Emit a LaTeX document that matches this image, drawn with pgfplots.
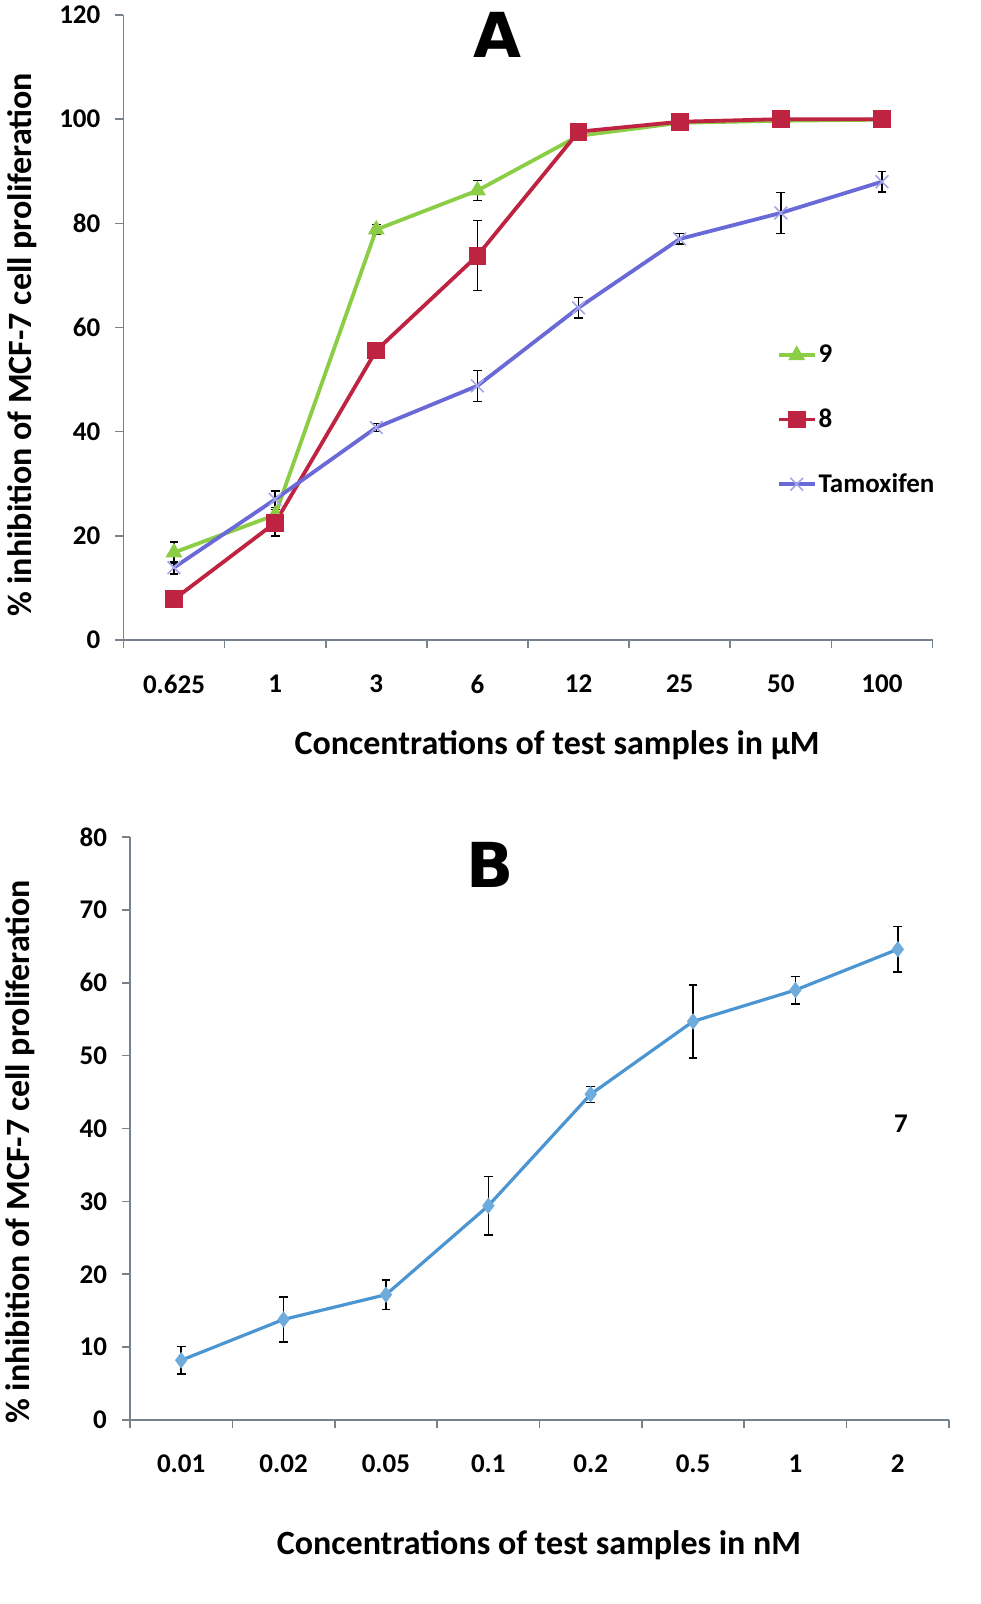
\documentclass[border=0pt]{standalone}
\usepackage{pgfplots}
\pgfplotsset{compat=1.18}
\usepackage{fontspec}
\setmainfont{Carlito}
\newfontfamily\titlefont{DejaVu Sans}
\definecolor{cgreen}{RGB}{140,205,70}
\definecolor{cred}{RGB}{190,35,65}
\definecolor{ctam}{RGB}{105,105,215}
\definecolor{cblue}{RGB}{75,150,210}
\definecolor{axgray}{RGB}{120,130,140}

\pgfplotstableread{
x g ge r re t te
0 16.8 2.0 7.8 0.0 13.9 1.2
1 24.0 1.0 22.5 2.5 27.0 1.6
2 78.8 1.0 55.6 0.0 40.8 0.8
3 86.3 1.9 73.8 6.7 48.8 3.0
4 96.8 0.0 97.6 0.0 63.8 2.0
5 99.3 0.0 99.5 0.0 77.0 1.0
6 99.7 0.0 100.0 0.0 82.0 3.9
7 99.9 0.0 100.0 0.0 88.0 2.0
}\dataA

\pgfplotstableread{
x y e
0 8.2 1.9
1 13.8 3.1
2 17.2 2.0
3 29.4 4.0
4 44.7 1.1
5 54.7 5.0
6 59.0 1.9
7 64.6 3.1
}\dataB

\pgfplotsset{
  panel/.style={
    scale only axis,
    xmin=-0.5, xmax=7.5,
    axis x line*=bottom, axis y line*=left,
    axis line style={-, draw=axgray, line width=0.8pt},
    tick style={draw=axgray, line width=0.8pt},
    tick align=outside,
    major tick length=4pt,
    xtick={-0.5,0.5,...,7.5},
    xticklabels={},
    /pgf/number format/assume math mode=true,
    tick label style={font=\fontsize{13.5}{15}\selectfont\bfseries},
    yticklabel style={xshift=-4pt},
    extra x ticks={0,1,2,3,4,5,6,7},
    extra x tick style={major tick length=0pt, xticklabel style={yshift=-14pt}},
    ylabel={\% inhibition of MCF-7 cell proliferation},
    label style={font=\fontsize{17}{20}\selectfont\bfseries},
    clip=false,
  },
  ebar/.style={forget plot, draw=none, mark=none,
    error bars/.cd, y dir=both, y explicit,
    error bar style={draw=black, line width=0.7pt},
    error mark options={rotate=90, draw=black, mark size=2.2pt, line width=0.7pt}},
}

\begin{document}
\begin{tikzpicture}
\path[use as bounding box] (0pt,0pt) rectangle (490pt,-802pt);

\begin{axis}[panel,
  at={(61.7pt,-320pt)}, anchor=south west,
  width=404.6pt, height=312.5pt,
  ymin=0, ymax=120, ytick={0,20,...,120},
  extra x tick labels={0.625,1,3,6,12,25,50,100},
  xlabel={Concentrations of test samples in µM},
  xlabel style={at={(axis description cs:0.536,-0.168)}, anchor=center},
  ylabel style={at={(axis description cs:-0.1255,0.472)}, anchor=center},
  legend style={draw=none, fill=none, at={(axis description cs:0.807,0.476)}, anchor=north west,
    font=\fontsize{13.5}{15}\selectfont\bfseries, row sep=19.5pt, inner sep=0pt,
    nodes={inner sep=1pt}},
  legend cell align=left,
  legend image code/.code={\draw[#1, mark repeat=2, mark phase=2] plot coordinates {(0pt,0pt)(9pt,0pt)(18pt,0pt)};},
]
\addplot[ebar] table[x=x, y=g, y error=ge] {\dataA};
\addplot[ebar] table[x=x, y=r, y error=re] {\dataA};
\addplot[ebar] table[x=x, y=t, y error=te] {\dataA};
\addplot[cgreen, line width=1.9pt, mark=triangle*, mark size=4.4pt, mark options={solid, fill=cgreen, line width=0.5pt}] table[x=x, y=g] {\dataA};
\addlegendentry{9}
\addplot[cred, line width=1.9pt, mark=square*, mark size=4.2pt, mark options={solid, fill=cred, line width=0.5pt}] table[x=x, y=r] {\dataA};
\addlegendentry{8}
\addplot[ctam, line width=1.9pt, mark=x, mark size=4.5pt, mark options={solid, draw=ctam!60, line width=0.8pt}] table[x=x, y=t] {\dataA};
\addlegendentry{Tamoxifen}
\end{axis}

\begin{axis}[panel,
  at={(65pt,-710pt)}, anchor=south west,
  width=409.5pt, height=291.5pt,
  ymin=0, ymax=80, ytick={0,10,...,80},
  extra x tick labels={0.01,0.02,0.05,0.1,0.2,0.5,1,2},
  xlabel={Concentrations of test samples in nM},
  xlabel style={at={(axis description cs:0.4994,-0.2144)}, anchor=center},
  ylabel style={at={(axis description cs:-0.134,0.46)}, anchor=center},
]
\addplot[ebar] table[x=x, y=y, y error=e] {\dataB};
\addplot[cblue, line width=1.6pt, mark=diamond*, mark size=2.8pt, mark options={solid, fill=cblue!80, draw=cblue!80}] table[x=x, y=y] {\dataB};
\node[font=\fontsize{13.5}{15}\selectfont\bfseries] at (axis cs:7.03,40.6) {7};
\end{axis}

\node[font=\titlefont\fontsize{31}{34}\selectfont\bfseries] at (248.5pt,-17.5pt) {A};
\node[font=\titlefont\fontsize{31}{34}\selectfont\bfseries] at (245pt,-432.5pt) {B};
\end{tikzpicture}
\end{document}
